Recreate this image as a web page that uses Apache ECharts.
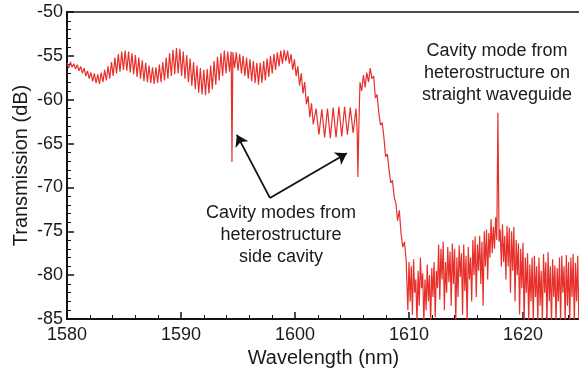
<!DOCTYPE html>
<html>
<head>
<meta charset="utf-8">
<script src="https://cdn.jsdelivr.net/npm/echarts@6/dist/echarts.min.js"></script>
<style>
	html, body { margin: 0; padding: 0; background: #fff; }
	#chart { width: 579px; height: 371px; }
</style>
</head>
<body>
<div id="chart"></div>
<script>
// transmission spectrum, [wavelength nm, transmission dB]
var rippleBand = [
	[1580.00,-55.8],[1580.15,-56.4],[1580.30,-55.7],[1580.45,-56.3],[1580.60,-55.9],[1580.75,-56.5],
	[1580.90,-56.0],[1581.05,-56.7],[1581.20,-56.2],[1581.35,-57.0],[1581.50,-56.4],[1581.65,-57.3],
	[1581.80,-56.7],[1581.95,-57.6],[1582.10,-56.9],[1582.25,-57.9],[1582.40,-57.0],[1582.55,-58.1],
	[1582.70,-57.1],[1582.85,-58.2],[1583.00,-56.9],[1583.15,-58.0],[1583.30,-56.6],[1583.45,-57.8],
	[1583.60,-56.2],[1583.75,-57.6],[1583.90,-55.7],[1584.05,-57.3],[1584.20,-55.2],[1584.35,-57.0],
	[1584.50,-54.8],[1584.65,-56.8],[1584.80,-54.5],[1584.95,-56.6],[1585.10,-54.4],[1585.25,-56.7],
	[1585.40,-54.5],[1585.55,-56.9],[1585.70,-54.7],[1585.85,-57.1],[1586.00,-54.9],[1586.15,-57.4],
	[1586.30,-55.2],[1586.45,-57.6],[1586.60,-55.5],[1586.75,-57.9],[1586.90,-55.8],[1587.05,-58.0],
	[1587.20,-56.1],[1587.35,-58.1],[1587.50,-56.3],[1587.65,-58.2],[1587.80,-56.3],[1587.95,-58.1],
	[1588.10,-56.0],[1588.25,-58.0],[1588.40,-55.7],[1588.55,-57.8],[1588.70,-55.2],[1588.85,-57.6],
	[1589.00,-54.7],[1589.15,-57.3],[1589.30,-54.3],[1589.45,-57.1],[1589.60,-54.1],[1589.75,-57.0],
	[1589.90,-54.2],[1590.05,-57.3],[1590.20,-54.5],[1590.35,-57.6],[1590.50,-54.9],[1590.65,-58.0],
	[1590.80,-55.3],[1590.95,-58.4],[1591.10,-55.7],[1591.25,-58.8],[1591.40,-56.1],[1591.55,-59.2],
	[1591.70,-56.4],[1591.85,-59.4],[1592.00,-56.6],[1592.15,-59.5],[1592.30,-56.5],[1592.45,-59.3],
	[1592.60,-56.1],[1592.75,-58.8],[1592.90,-55.6],[1593.05,-58.3],[1593.20,-55.1],[1593.35,-57.8],
	[1593.50,-54.7],[1593.65,-57.3],[1593.80,-54.4],[1593.95,-57.0],[1594.10,-54.5],[1594.25,-56.8],
	[1594.40,-54.5],[1594.47,-67.1],[1594.55,-54.6],[1594.70,-56.4],[1594.85,-54.6],[1595.00,-56.7],
	[1595.15,-54.8],[1595.30,-57.0],[1595.45,-55.0],[1595.60,-57.3],[1595.75,-55.2],[1595.90,-57.6],
	[1596.05,-55.4],[1596.20,-57.9],[1596.35,-55.6],[1596.50,-58.1],[1596.65,-55.8],[1596.80,-58.3],
	[1596.95,-55.8],[1597.10,-58.1],[1597.25,-55.6],[1597.40,-57.8],[1597.55,-55.3],[1597.70,-57.4],
	[1597.85,-55.0],[1598.00,-57.0],[1598.15,-54.8],[1598.30,-56.6],[1598.45,-54.6],[1598.60,-56.2],
	[1598.75,-54.4],[1598.90,-55.9],[1599.05,-54.3],[1599.20,-55.6],[1599.35,-54.4],[1599.50,-55.9],
	[1599.65,-54.8],[1599.80,-56.6],[1599.95,-55.4],[1600.10,-57.3],[1600.25,-56.2],[1600.40,-58.4],
	[1600.55,-57.0],[1600.70,-59.3],[1600.85,-58.0],[1601.00,-60.5],[1601.15,-59.6],[1601.30,-62.0],
	[1601.45,-60.4],[1601.60,-62.8]
];

var plateauBand = [
	[1601.85,-61.0],[1602.10,-64.0],[1602.35,-61.1],[1602.60,-64.3],[1602.85,-61.0],[1603.10,-64.4],
	[1603.35,-60.9],[1603.60,-64.3],[1603.85,-60.8],[1604.10,-64.2],[1604.35,-60.8],[1604.60,-64.0],
	[1604.85,-60.9],[1605.10,-63.8],[1605.35,-61.0],[1605.45,-63.5],[1605.52,-68.8],[1605.60,-63.0],
	[1605.70,-58.0],[1605.85,-59.0],[1606.00,-57.2],[1606.15,-58.6],[1606.30,-56.9],[1606.45,-58.0],
	[1606.60,-56.4],[1606.75,-57.6]
];

var edgeBand = [
	[1606.90,-57.3],[1607.05,-59.8],[1607.20,-59.4],[1607.35,-61.5],[1607.50,-62.9],[1607.65,-62.6],
	[1607.80,-64.3],[1607.95,-66.5],[1608.10,-66.2],[1608.25,-68.0],[1608.40,-69.5],[1608.55,-69.2],
	[1608.70,-71.1],[1608.85,-71.8],[1609.00,-73.8],[1609.15,-72.6],[1609.30,-75.2],[1609.45,-76.8],
	[1609.60,-76.2],[1609.75,-78.3],[1609.90,-84.0]
];

var noiseBand = [
	[1610.0,-78.5],[1610.1,-83.0],[1610.2,-79.0],[1610.3,-84.5],[1610.4,-78.2],[1610.5,-82.0],
	[1610.6,-80.5],[1610.7,-85.5],[1610.8,-79.5],[1610.9,-83.5],[1611.0,-78.0],[1611.1,-81.5],
	[1611.2,-79.8],[1611.3,-85.5],[1611.4,-80.5],[1611.5,-84.0],[1611.6,-78.8],[1611.7,-83.0],
	[1611.8,-80.0],[1611.9,-85.5],[1612.0,-79.2],[1612.1,-82.5],[1612.2,-78.5],[1612.3,-84.8],
	[1612.4,-79.5],[1612.5,-81.5],[1612.6,-76.5],[1612.7,-82.8],[1612.8,-77.0],[1612.9,-80.5],
	[1613.0,-76.2],[1613.1,-84.0],[1613.2,-78.5],[1613.3,-82.0],[1613.4,-76.8],[1613.5,-80.8],
	[1613.6,-77.3],[1613.7,-83.5],[1613.8,-76.4],[1613.9,-81.0],[1614.0,-77.0],[1614.1,-85.5],
	[1614.2,-78.0],[1614.3,-82.5],[1614.4,-76.6],[1614.5,-80.2],[1614.6,-77.5],[1614.7,-84.5],
	[1614.8,-76.5],[1614.9,-81.8],[1615.0,-77.8],[1615.1,-85.5],[1615.2,-76.8],[1615.3,-80.5],
	[1615.4,-78.0],[1615.5,-83.0],[1615.6,-76.0],[1615.7,-80.0],[1615.8,-75.6],[1615.9,-82.5],
	[1616.0,-76.5],[1616.1,-79.5],[1616.2,-75.5],[1616.3,-81.0],[1616.4,-76.2],[1616.5,-83.5],
	[1616.6,-75.0],[1616.7,-79.0],[1616.8,-74.8],[1616.9,-80.5],[1617.0,-75.2],[1617.1,-78.0],
	[1617.2,-73.6],[1617.3,-77.5],[1617.4,-74.5],[1617.5,-77.0],[1617.6,-73.4],[1617.7,-76.0],
	[1617.8,-61.5],[1617.9,-76.2],[1618.0,-74.8],[1618.1,-79.0],[1618.2,-74.2],[1618.3,-78.5],
	[1618.4,-75.5],[1618.5,-80.5],[1618.6,-74.4],[1618.7,-79.0],[1618.8,-74.6],[1618.9,-82.0],
	[1619.0,-75.0],[1619.1,-79.5],[1619.2,-74.5],[1619.3,-83.0],[1619.4,-76.0],[1619.5,-80.0],
	[1619.6,-76.4],[1619.7,-84.5],[1619.8,-77.0],[1619.9,-81.5],[1620.0,-76.3],[1620.1,-85.5],
	[1620.2,-78.0],[1620.3,-82.0],[1620.4,-77.5],[1620.5,-85.5],[1620.6,-78.8],[1620.7,-83.0],
	[1620.8,-78.0],[1620.9,-85.5],[1621.0,-77.8],[1621.1,-82.5],[1621.2,-79.0],[1621.3,-85.5],
	[1621.4,-78.0],[1621.5,-83.5],[1621.6,-79.5],[1621.7,-85.5],[1621.8,-77.6],[1621.9,-82.0],
	[1622.0,-78.5],[1622.1,-85.5],[1622.2,-77.4],[1622.3,-83.0],[1622.4,-79.0],[1622.5,-85.5],
	[1622.6,-78.2],[1622.7,-82.5],[1622.8,-78.9],[1622.9,-85.5],[1623.0,-79.2],[1623.1,-83.0],
	[1623.2,-78.0],[1623.3,-85.5],[1623.4,-77.8],[1623.5,-82.0],[1623.6,-79.0],[1623.7,-85.5],
	[1623.8,-77.7],[1623.9,-83.5],[1624.0,-78.5],[1624.1,-85.5],[1624.2,-78.0],[1624.3,-82.5],
	[1624.4,-77.6],[1624.5,-85.5],[1624.6,-78.6],[1624.7,-83.0],[1624.8,-77.8],[1624.9,-85.5],
	[1625.0,-78.2]
];

// arrows: common tail, then the two side-cavity dips
var arrowTail = [1597.8, -71.2];
var arrowTips = [[1594.9, -64.0], [1604.55, -66.1]];

var noteSide = ["Cavity modes from", "heterostructure", "side cavity"];
var noteStraight = ["Cavity mode from", "heterostructure on", "straight waveguide"];

var FONT = "'Liberation Sans', Arial, sans-serif";
var TEXT_COLOR = "#1a1a1a";

var chart = echarts.init(document.getElementById("chart"), null, { renderer: "canvas" });

var spectrum = rippleBand.concat(plateauBand, edgeBand, noiseBand);

var textLines = function(lines, cx, top)
{
	var re = [];
	for(var i=0; i<lines.length; i++)
	{
		re.push({
			type: "text",
			silent: true,
			style: {
				text: lines[i],
				x: cx,
				y: top + i * 22,
				textAlign: "center",
				textVerticalAlign: "middle",
				fill: TEXT_COLOR,
				font: "18px " + FONT
			}
		});
	}
	return re;
};

var arrowData = [];
for(var i=0; i<arrowTips.length; i++)
	arrowData.push([{ coord: arrowTail }, { coord: arrowTips[i] }]);

var option = {
	animation: false,
	backgroundColor: "#ffffff",
	grid: {
		left: 67, top: 12, right: -1, bottom: 52,
		outerBoundsMode: "none",
		containLabel: false,
		show: true, borderColor: "#111", borderWidth: 1.5
	},
	xAxis: {
		type: "value",
		min: 1580, max: 1625, interval: 10,
		name: "Wavelength (nm)",
		nameLocation: "middle",
		nameGap: 29,
		nameMoveOverlap: false,
		nameTextStyle: { fontFamily: FONT, fontSize: 20, color: TEXT_COLOR },
		axisLine: { show: true, onZero: false, lineStyle: { color: "#111", width: 2 } },
		axisTick: { show: true, inside: true, length: 7, lineStyle: { color: "#111", width: 1.5 } },
		minorTick: { show: true, splitNumber: 5, length: 4, lineStyle: { color: "#111", width: 1 } },
		axisLabel: { fontFamily: FONT, fontSize: 18, color: TEXT_COLOR, margin: 7,
			formatter: function(v){ return v >= 1625 ? "" : String(v); } },
		splitLine: { show: false }
	},
	yAxis: {
		type: "value",
		min: -85, max: -50, interval: 5,
		name: "Transmission (dB)",
		nameLocation: "middle",
		nameGap: 36,
		nameMoveOverlap: false,
		nameTextStyle: { fontFamily: FONT, fontSize: 20, color: TEXT_COLOR },
		axisLine: { show: true, onZero: false, lineStyle: { color: "#111", width: 2 } },
		axisTick: { show: true, inside: true, length: 7, lineStyle: { color: "#111", width: 1.5 } },
		minorTick: { show: true, splitNumber: 5, length: 4, lineStyle: { color: "#111", width: 1 } },
		axisLabel: { fontFamily: FONT, fontSize: 18, color: TEXT_COLOR, margin: 4 },
		splitLine: { show: false }
	},
	series: [
		{
			type: "line",
			data: spectrum,
			showSymbol: false,
			clip: true,
			lineStyle: { color: "#e8302b", width: 1.2 },
			markLine: {
				silent: true,
				symbol: ["none", "arrow"],
				symbolSize: 11,
				label: { show: false },
				emphasis: { disabled: true },
				lineStyle: { color: "#111", width: 1.8, type: "solid" },
				data: arrowData
			}
		}
	],
	graphic: textLines(noteSide, 281, 213).concat(textLines(noteStraight, 497, 51))
};

chart.setOption(option);
</script>
</body>
</html>
